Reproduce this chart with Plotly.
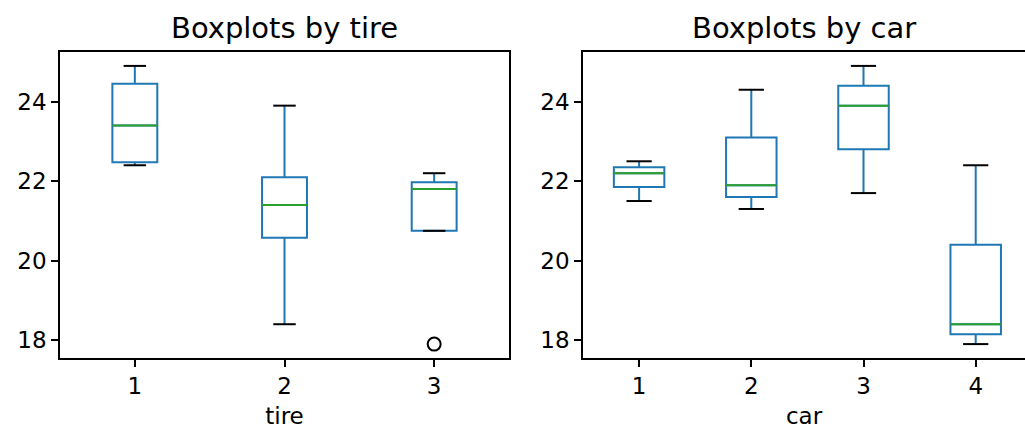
import numpy as np
import plotly.graph_objects as go
from plotly.subplots import make_subplots

# Tire wear observations (car x tire)
car = [1, 1, 1, 2, 2, 2, 3, 3, 3, 4, 4, 4]
tire = [1, 2, 3, 1, 2, 3, 1, 2, 3, 1, 2, 3]
wear = [22.5, 21.5, 22.2, 24.3, 21.3, 21.9, 24.9, 23.9, 21.7, 22.4, 18.4, 17.9]

titles = ["Boxplots by tire", "Boxplots by car"]
xlabels = ["tire", "car"]

BLUE = "#1f77b4"
GREEN = "#2ca02c"
FONT = "DejaVu Sans"
TICK = 23
TITLE = 29


def stats(vals):
    v = np.sort(np.asarray(vals, dtype=float))
    q1, med, q3 = np.percentile(v, [25, 50, 75])
    iqr = q3 - q1
    hi = v[v <= q3 + 1.5 * iqr]
    lo = v[v >= q1 - 1.5 * iqr]
    whi = q3 if len(hi) == 0 or hi.max() < q3 else hi.max()
    wlo = q1 if len(lo) == 0 or lo.min() > q1 else lo.min()
    fliers = v[(v < wlo) | (v > whi)]
    return q1, med, q3, wlo, whi, fliers


fig = make_subplots(rows=1, cols=2, horizontal_spacing=0.0)

groupings = [tire, car]
for i, grp in enumerate(groupings):
    col = i + 1
    keys = sorted(set(grp))
    width = min(0.15 * max(max(keys) - min(keys), 1.0), 0.5)
    Q1, MED, Q3, LO, HI = [], [], [], [], []
    medx, medy, capx, capy, flx, fly = [], [], [], [], [], []
    for k in keys:
        vals = [w for w, g in zip(wear, grp) if g == k]
        q1, med, q3, wlo, whi, fl = stats(vals)
        Q1.append(q1); MED.append(med); Q3.append(q3); LO.append(wlo); HI.append(whi)
        medx += [k - width / 2, k + width / 2, None]
        medy += [med, med, None]
        for c in (wlo, whi):
            capx += [k - width / 4, k + width / 4, None]
            capy += [c, c, None]
        for f in fl:
            flx.append(k); fly.append(f)
    fig.add_trace(go.Box(x=keys, q1=Q1, median=MED, q3=Q3, lowerfence=LO, upperfence=HI,
                         width=width, whiskerwidth=0, boxpoints=False,
                         line=dict(color=BLUE, width=2), fillcolor="rgba(0,0,0,0)",
                         showlegend=False, hoverinfo="skip"), row=1, col=col)
    fig.add_trace(go.Scatter(x=medx, y=medy, mode="lines", line=dict(color=GREEN, width=2),
                             showlegend=False, hoverinfo="skip"), row=1, col=col)
    fig.add_trace(go.Scatter(x=capx, y=capy, mode="lines", line=dict(color="black", width=2),
                             showlegend=False, hoverinfo="skip"), row=1, col=col)
    if flx:
        fig.add_trace(go.Scatter(x=flx, y=fly, mode="markers",
                                 marker=dict(symbol="circle-open", size=13, color="black",
                                             line=dict(width=2, color="black")),
                                 showlegend=False, hoverinfo="skip"), row=1, col=col)

W, H = 1025, 429
L, R, T, B = 60, 0, 52, 71
pw = W - L - R
left_dom = [0, (509 - L) / pw]
right_dom = [(583 - L) / pw, 1]

axis_common = dict(showgrid=False, zeroline=False, showline=True, linecolor="black",
                   linewidth=1.6, ticks="outside", ticklen=7, tickwidth=1.6,
                   tickcolor="black", tickfont=dict(family=FONT, size=TICK, color="black"))

fig.update_layout(
    width=W, height=H,
    margin=dict(l=L, r=R, t=T, b=B),
    plot_bgcolor="white", paper_bgcolor="white",
    font=dict(family=FONT, size=TICK, color="black"),
    boxmode="overlay",
    xaxis=dict(domain=left_dom, range=[0.5, 3.5], tickvals=[1, 2, 3], mirror=True,
               title=dict(text=xlabels[0], standoff=13, font=dict(size=TICK)), **axis_common),
    yaxis=dict(range=[17.55, 25.25], tickvals=[18, 20, 22, 24], mirror=True, **axis_common),
    xaxis2=dict(domain=right_dom, range=[0.5, 0.5 + (W - 583) / 112.2], tickvals=[1, 2, 3, 4],
                mirror=True, title=dict(text=xlabels[1], standoff=13, font=dict(size=TICK)),
                **axis_common),
    yaxis2=dict(range=[17.55, 25.25], tickvals=[18, 20, 22, 24], mirror=False, **axis_common),
)

for dom, t in [(left_dom, titles[0]), (right_dom, titles[1])]:
    fig.add_annotation(text=t, xref="paper", yref="paper",
                       x=(dom[0] + dom[1]) / 2, y=1, xanchor="center", yanchor="bottom",
                       yshift=5, showarrow=False, font=dict(family=FONT, size=TITLE, color="black"))

fig.write_html("out.html")
